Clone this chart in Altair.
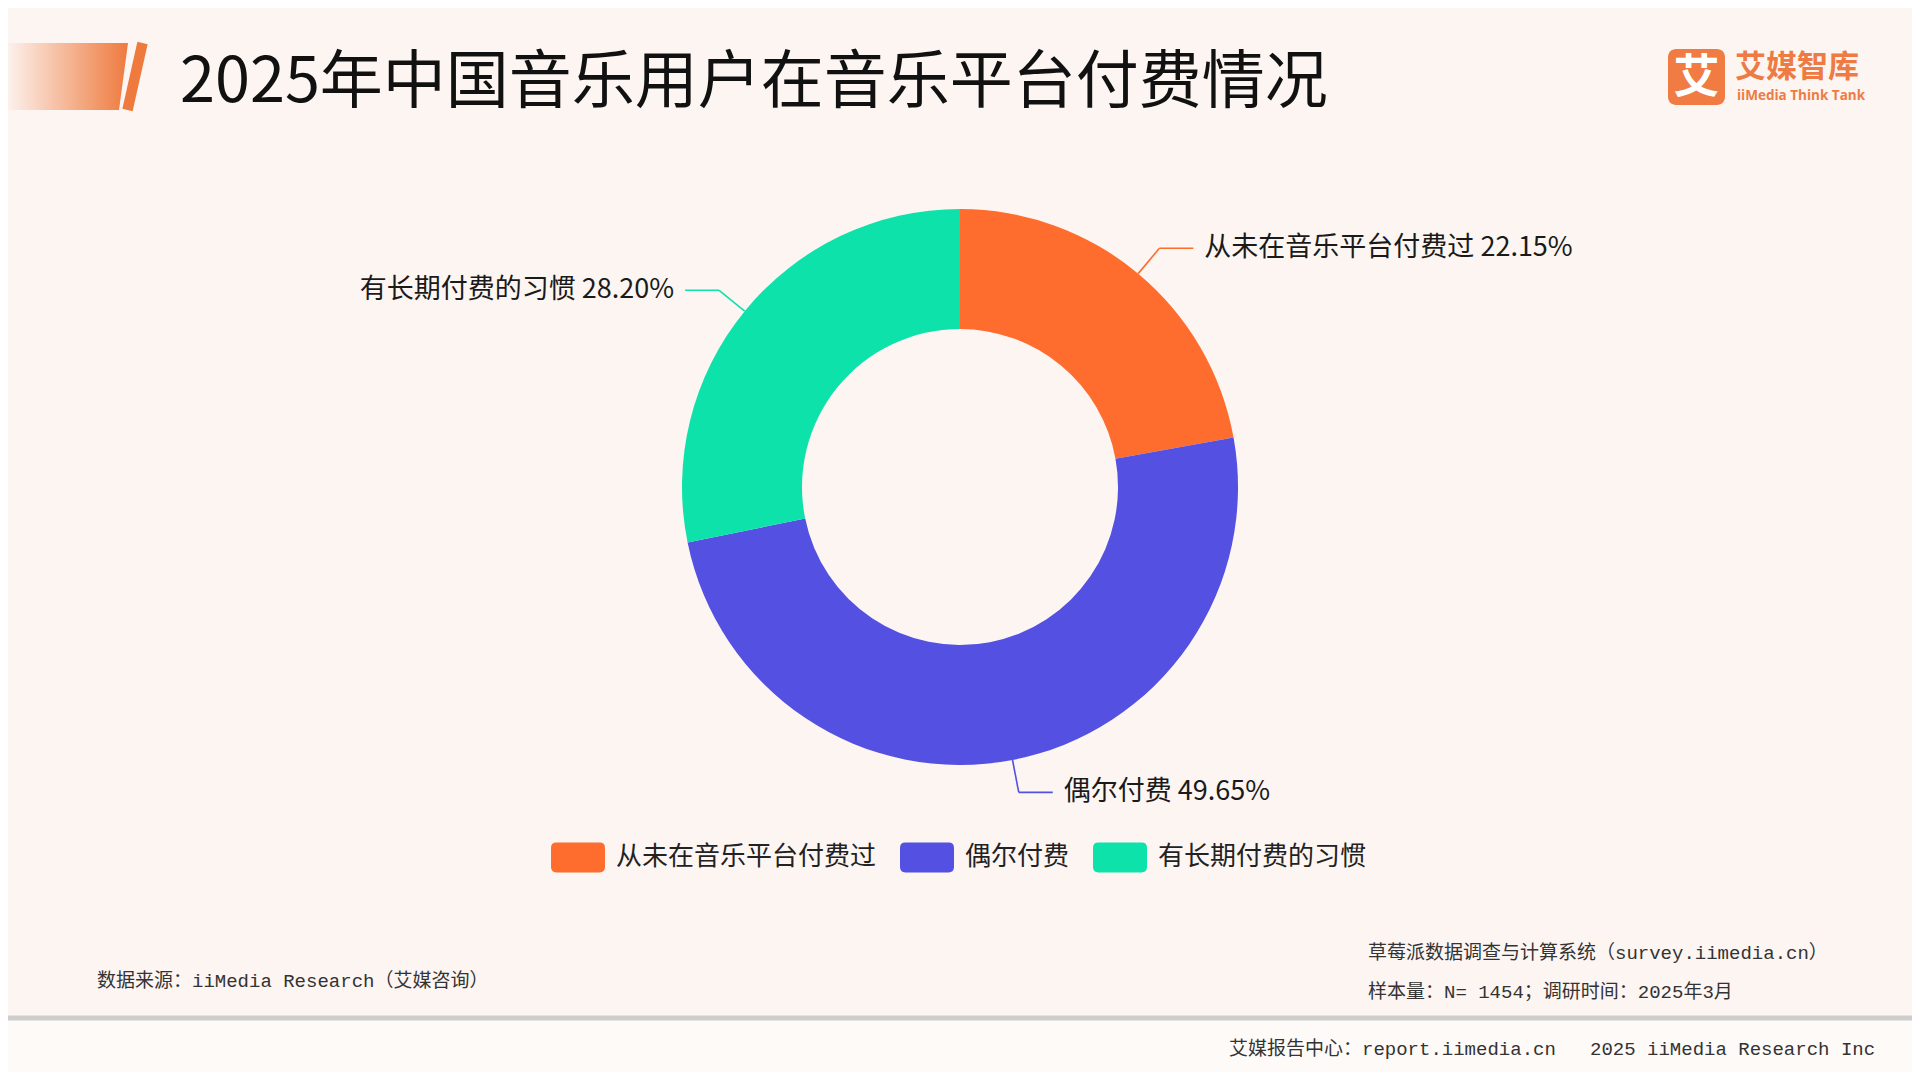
import altair as alt
import pandas as pd

# ---------------- data ----------------
categories = ["从未在音乐平台付费过", "偶尔付费", "有长期付费的习惯"]
values = [22.15, 49.65, 28.20]
colors = ["#fe6c2e", "#5350e2", "#0de2aa"]

title_text = "2025年中国音乐用户在音乐平台付费情况"
source_text = "数据来源：iiMedia Research（艾媒咨询）"
survey_line1 = "草莓派数据调查与计算系统（survey.iimedia.cn）"
survey_line2 = "样本量：N= 1454；调研时间：2025年3月"
footer_text = "艾媒报告中心：report.iimedia.cn\u00a0\u00a0\u00a02025 iiMedia Research Inc"
logo_cn = "艾媒智库"
logo_en = "iiMedia Think Tank"

# ---------------- layout ----------------
W, H = 1904, 1064
CX, CY = 952, 479
R_OUT, R_IN = 278, 158
R_ELBOW = 311
H_LEN = 34
T_GAP = 11
CJK = "Noto Sans CJK SC"
MONO = "Liberation Mono, Noto Sans CJK SC"

df = pd.DataFrame({"category": categories, "value": values, "idx": list(range(len(categories)))})
df["label"] = [f"{c} {v:.2f}%" for c, v in zip(categories, values)]

color_scale = alt.Scale(domain=categories, range=colors)

rounded = ("M-0.8,-0.556 L0.8,-0.556 Q1,-0.556 1,-0.356 L1,0.356 Q1,0.556 0.8,0.556 "
           "L-0.8,0.556 Q-1,0.556 -1,0.356 L-1,-0.356 Q-1,-0.556 -0.8,-0.556 Z")

base = alt.Chart(df)

donut = base.mark_arc(radius=R_OUT, innerRadius=R_IN).encode(
    theta=alt.Theta("value:Q", stack=True),
    order=alt.Order("idx:Q"),
    color=alt.Color(
        "category:N", scale=color_scale, sort=categories,
        legend=alt.Legend(
            title=None, orient="none", legendX=543, legendY=822, direction="horizontal",
            symbolType=rounded, symbolSize=2916, symbolStrokeWidth=0, symbolOpacity=1,
            labelFontSize=26, labelFont=CJK, labelColor="#222222", labelOffset=11,
            columnPadding=23, padding=0, labelLimit=400,
        ),
    ),
    x=alt.value(CX),
    y=alt.value(CY),
)

geo = base.transform_joinaggregate(total="sum(value)").transform_window(
    cum="sum(value)", sort=[alt.SortField("idx")], frame=[None, 0]
).transform_calculate(
    mid="(datum.cum - datum.value/2)/datum.total*2*PI"
).transform_calculate(
    sx=f"{CX} + {R_OUT}*sin(datum.mid)",
    sy=f"{CY} - {R_OUT}*cos(datum.mid)",
    ex=f"{CX} + {R_ELBOW}*sin(datum.mid)",
    ey=f"{CY} - {R_ELBOW}*cos(datum.mid)",
    side="sin(datum.mid) >= 0 ? 1 : -1",
).transform_calculate(
    hx=f"datum.ex + datum.side*{H_LEN}",
    tx=f"datum.ex + datum.side*{H_LEN + T_GAP}",
)

line_color = alt.Color("category:N", scale=color_scale, legend=None)

leader1 = geo.mark_rule(strokeWidth=1.6).encode(
    x=alt.X("sx:Q", scale=None), y=alt.Y("sy:Q", scale=None),
    x2="ex:Q", y2="ey:Q", color=line_color,
)
leader2 = geo.mark_rule(strokeWidth=1.6).encode(
    x=alt.X("ex:Q", scale=None), y=alt.Y("ey:Q", scale=None),
    x2="hx:Q", y2="ey:Q", color=line_color,
)
label_r = geo.transform_filter("datum.side > 0").mark_text(
    align="left", baseline="middle", fontSize=27, font=CJK, color="#1a1a1a"
).encode(x=alt.X("tx:Q", scale=None), y=alt.Y("ey:Q", scale=None), text="label:N")
label_l = geo.transform_filter("datum.side < 0").mark_text(
    align="right", baseline="middle", fontSize=27, font=CJK, color="#1a1a1a"
).encode(x=alt.X("tx:Q", scale=None), y=alt.Y("ey:Q", scale=None), text="label:N")

# ---------------- decorations ----------------
one = alt.Chart(pd.DataFrame({"k": [0]}))

grad = alt.Gradient(
    gradient="linear",
    stops=[alt.GradientStop(color="#fcf1ec", offset=0), alt.GradientStop(color="#ee7a3e", offset=1)],
    x1=0, x2=1, y1=0, y2=0,
)
bar_shape = alt.Chart(pd.DataFrame({"px": [0, 111, 120], "py": [35, 35, 35], "py2": [102, 102, 35]}))
deco_bar = bar_shape.mark_area(color=grad, interpolate="linear").encode(
    x=alt.X("px:Q", scale=None), y=alt.Y("py:Q", scale=None), y2="py2:Q"
)
deco_slash = one.mark_rule(color="#ee7a3e", strokeWidth=10.5, strokeCap="butt").encode(
    x=alt.value(119.5), y=alt.value(102), x2=alt.value(134.5), y2=alt.value(35)
)

title = alt.Chart(pd.DataFrame({"t": [title_text]})).mark_text(
    align="left", baseline="middle", fontSize=63, font=CJK, fontWeight="normal", color="#111111"
).encode(text="t:N", x=alt.value(172), y=alt.value(75))

logo_box = one.mark_rect(color="#f07c44", cornerRadius=8).encode(
    x=alt.value(1660), x2=alt.value(1717), y=alt.value(41), y2=alt.value(97)
)
logo_glyph = alt.Chart(pd.DataFrame({"t": ["艾"]})).mark_text(
    align="center", baseline="middle", fontSize=46, font=CJK, fontWeight="bold", color="#ffffff"
).encode(text="t:N", x=alt.value(1688.5), y=alt.value(70))
logo_text = alt.Chart(pd.DataFrame({"t": [logo_cn]})).mark_text(
    align="left", baseline="middle", fontSize=31, font=CJK, fontWeight="bold", color="#ee7b43"
).encode(text="t:N", x=alt.value(1727), y=alt.value(60))
logo_sub = alt.Chart(pd.DataFrame({"t": [logo_en]})).mark_text(
    align="left", baseline="middle", fontSize=13.5, font="Open Sans", fontWeight="bold", color="#ee7b43"
).encode(text="t:N", x=alt.value(1729), y=alt.value(88))

lower_band = one.mark_rect(color="#fefaf8").encode(
    x=alt.value(0), x2=alt.value(W), y=alt.value(1008), y2=alt.value(H)
)
separator = one.mark_rule(color="#cdcdcd", strokeWidth=5).encode(
    x=alt.value(0), x2=alt.value(W), y=alt.value(1010)
)

def note(text, x, y):
    return alt.Chart(pd.DataFrame({"t": [text]})).mark_text(
        align="left", baseline="middle", fontSize=19, font=MONO, color="#333333"
    ).encode(text="t:N", x=alt.value(x), y=alt.value(y))

src = note(source_text, 89, 973)
sv1 = note(survey_line1, 1360, 945)
sv2 = note(survey_line2, 1360, 984)
foot = note(footer_text, 1221, 1041)

chart = alt.layer(
    lower_band, separator, deco_bar, deco_slash, title,
    logo_box, logo_glyph, logo_text, logo_sub,
    donut, leader1, leader2, label_r, label_l,
    src, sv1, sv2, foot,
).properties(
    width=W, height=H, padding=0,
    autosize=alt.AutoSizeParams(type="none"),
).configure(background="#fcf5f2").configure_view(strokeWidth=0, fill=None)

chart.save("out.html", embed_options={"renderer": "svg", "actions": False})
